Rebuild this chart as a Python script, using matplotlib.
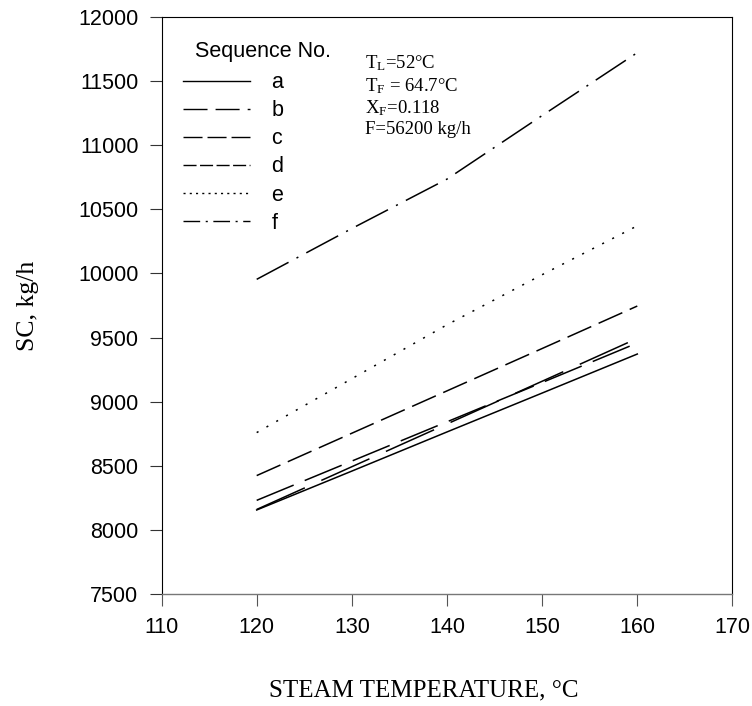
import matplotlib.pyplot as plt
from matplotlib.lines import Line2D

plt.rcParams['font.family'] = ['Liberation Sans', 'DejaVu Sans']
plt.rcParams['lines.scale_dashes'] = False

# data
temps = [120, 130, 140, 150, 160]
seq_a = [8157, 8460, 8765, 9068, 9372]
seq_b = [8425, 8755, 9085, 9415, 9746]
seq_c = [8232, 8538, 8844, 9150, 9458]
seq_d = [8161, 8494, 8827, 9160, 9494]
seq_e = [8760, 9180, 9600, 9990, 10371]
seq_f = [9954, 10350, 10735, 11230, 11720]
seq_names = ['a', 'b', 'c', 'd', 'e', 'f']

x_ticks = [110, 120, 130, 140, 150, 160, 170]
y_ticks = [7500, 8000, 8500, 9000, 9500, 10000, 10500, 11000, 11500, 12000]

conditions = [r'$\mathregular{T_L}$=52°C',
              r'$\mathregular{T_F}$ = 64.7°C',
              r'$\mathregular{X_F}$=0.118',
              'F=56200 kg/h']

# dash patterns (points) on the curves
line_dashes = [None, (18.7, 5.8), (28.8, 8.6), (38, 13), (1.5, 6.6),
               (26, 6.5, 1.5, 6.5)]
# the key draws its samples with shorter dashes
key_dashes = [None, (17.3, 5.8), (13.7, 3.6), (9.4, 2.5), (1.5, 3.0),
              (12, 4, 1.5, 4)]

fig = plt.figure(figsize=(7.52, 7.06), dpi=100)
ax = fig.add_axes([0.2148, 0.1582, 0.7592, 0.8181])

series = [seq_a, seq_b, seq_c, seq_d, seq_e, seq_f]
handles = []
for vals, name, ld, kd in zip(series, seq_names, line_dashes, key_dashes):
    ln, = ax.plot(temps, vals, color='black', lw=1.1)
    if ld is not None:
        ln.set_dashes(ld)
    h = Line2D([], [], color='black', lw=1.0)
    if kd is not None:
        h.set_dashes(kd)
    handles.append(h)

ax.set_xlim(110, 170)
ax.set_ylim(7500, 12000)
ax.set_xticks(x_ticks)
ax.set_yticks(y_ticks)
ax.tick_params(axis='both', direction='out', length=8.6, width=0.8,
               labelsize=15.5, pad=8)
ax.tick_params(axis='x', color='#555555')
ax.tick_params(axis='y', color='#333333')
for side in ['left', 'right', 'top']:
    ax.spines[side].set_linewidth(0.8)
    ax.spines[side].set_color('black')
ax.spines['bottom'].set_linewidth(1.0)
ax.spines['bottom'].set_color('#777777')

ax.set_xlabel('STEAM TEMPERATURE, °C', family='Liberation Serif', fontsize=18)
ax.xaxis.set_label_coords(0.46, -0.148)
ax.set_ylabel('SC, kg/h', family='Liberation Serif', fontsize=18.5)
ax.yaxis.set_label_coords(-0.214, 0.5)

ax.legend(handles, seq_names, loc='upper left', bbox_to_anchor=(0.0377, 0.904),
          frameon=False, fontsize=15.5, handlelength=3.1,
          handletextpad=1.0, labelspacing=0.33,
          borderpad=0, borderaxespad=0)
ax.text(0.0587, 0.939, 'Sequence No.', transform=ax.transAxes,
        fontsize=15.5, va='center', ha='left')

cond_y = [0.9112, 0.8714, 0.8333, 0.7969]
for txt, yy in zip(conditions, cond_y):
    ax.text(0.3564, yy, txt, transform=ax.transAxes, family='Liberation Serif',
            fontsize=13.5, va='baseline', ha='left')

fig.savefig('out.png', dpi=100)
